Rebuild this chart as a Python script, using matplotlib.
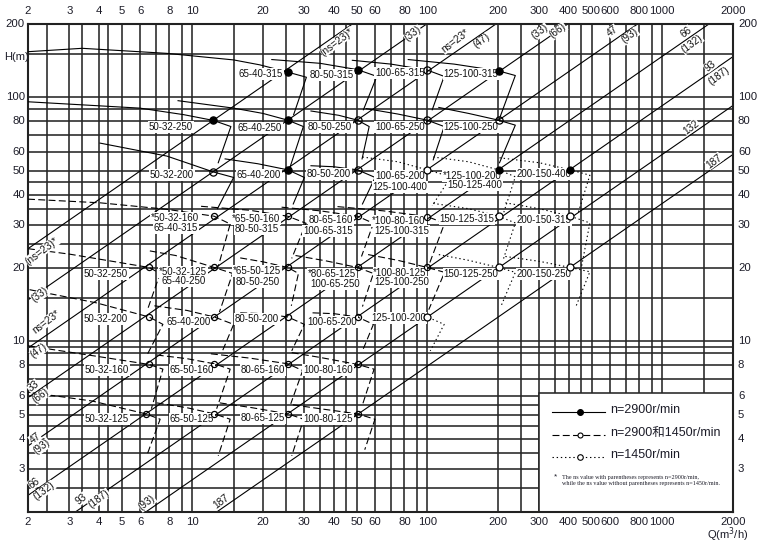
import matplotlib
matplotlib.use('Agg')
import matplotlib.pyplot as plt
from matplotlib.patches import Rectangle
from matplotlib.transforms import blended_transform_factory

plt.rcParams['font.family'] = ['Liberation Sans', 'Noto Sans CJK SC', 'DejaVu Sans']
plt.rcParams['lines.scale_dashes'] = False

# ---------------- data ----------------
XTICKS = [2, 3, 4, 5, 6, 8, 10, 20, 30, 40, 50, 60, 80, 100, 200, 300, 400, 500, 600, 800, 1000, 2000]
YTICKS = [3, 4, 5, 6, 8, 10, 20, 30, 40, 50, 60, 80, 100, 200]
XGRID = [2, 2.4, 3, 3.4, 4, 4.4, 5, 6, 7, 8, 9, 10, 15, 20, 25, 30, 35, 40, 45, 50, 60, 70, 80, 90,
         100, 200, 250, 300, 350, 400, 450, 500, 600, 700, 800, 900, 1000, 1500, 2000]
YGRID = [2, 2.5, 3, 3.5, 4, 4.5, 5, 5.5, 6, 7, 8, 9, 9.5, 10, 15, 20, 25, 30, 35, 40, 45, 50,
         60, 70, 80, 90, 100, 150, 200]

# specific-speed lines (start / end points)
NS_Q0 = [2, 2, 2, 2, 2, 2, 3.18, 6.34, 12.7]
NS_H0 = [24, 14.8, 9.4, 5.89, 3.73, 2.34, 2, 2, 2]
NS_Q1 = [48, 99.4, 196, 396, 785, 1580, 2000, 2000, 2000]
NS_H1 = [200, 200, 200, 200, 200, 200, 147, 92.7, 58.4]

# pump curves: (Q list, H list, boundary end (Q,H), best point (Q,H), dot fill)
SOLID_PUMPS = [
    ([2, 3.4, 7.8, 15, 19.4, 25.5, 30.6], [154, 159, 151.6, 142.5, 136, 127, 121], (27, 85), (25.5, 127), 'f'),
    ([21.8, 35, 50.5, 61], [143, 138, 130, 122], (53.5, 89), (50.5, 130), 'f'),
    ([48, 70, 100, 118], [142, 137, 129.5, 122], (105, 89), (100, 129.5), 'o'),
    ([83, 130, 201, 237], [143, 137, 128.5, 123], (203, 82), (201, 128.5), 'f'),
    ([2, 6, 9.2, 12.3, 14.6], [96, 90.4, 85, 80.5, 76], (12.9, 54), (12.3, 80.5), 'f'),
    ([8.7, 15, 20, 25.5, 29.7], [97, 90.4, 86, 80.7, 76], (26.1, 52), (25.5, 80.7), 'f'),
    ([32, 42, 50.5, 56.6], [88, 84.5, 80.7, 76], (52.8, 56), (50.5, 80.7), 'o'),
    ([55, 75, 100, 118], [90, 85.5, 80.7, 76], (106, 55.5), (100, 80.7), 'o'),
    ([112, 150, 201, 237], [91, 86, 80.7, 77], (203, 54), (201, 80.7), 'o'),
    ([4.05, 7.8, 10, 12.3, 15], [65, 57.5, 53, 49.5, 47], (12.8, 35), (12.3, 49.5), 'o'),
    ([13.8, 19, 25.5, 30], [56, 53.5, 50.5, 47], (26.9, 36.6), (25.5, 50.5), 'f'),
    ([32, 40, 50.5, 60], [52.5, 52, 50.5, 47], (53, 36.6), (50.5, 50.5), 'o'),
]

DASHED_PUMPS = [
    ([2, 4.05, 7.8, 12.4, 14.5], [38.3, 37, 34.8, 32.6, 30.3], (12.9, 20.3), (12.4, 32.6)),
    ([10.9, 17.5, 25.5, 30.5], [35.8, 34.5, 32.6, 30.5], (26.5, 21.9), (25.5, 32.6)),
    ([24, 35, 50.5, 59], [35.5, 34.3, 32.6, 30.5], (52.5, 22.3), (50.5, 32.6)),
    ([41.5, 65, 100, 118.5], [35.7, 34.3, 32.5, 30.5], (101.5, 20.5), (100, 32.5)),
    ([2, 3, 6.55, 7.3], [24, 22.8, 20.1, 19], (6.45, 13.5), (6.55, 20.1)),
    ([6.6, 8.5, 12.4, 14.85], [23.5, 22.5, 20.1, 19], (13.05, 13.2), (12.4, 20.1)),
    ([16, 20, 25.5, 28.3], [22, 21.2, 20.1, 19], (26.4, 14), (25.5, 20.1)),
    ([27.5, 37, 50.5, 59], [22.5, 21.4, 20.1, 19], (53, 13.9), (50.5, 20.1)),
    ([56, 75, 100, 118.5], [22.7, 21.5, 20.1, 19.2], (101.5, 13.5), (100, 20.1)),
    ([2.03, 3.9, 6.55, 7.5], [16.3, 14.4, 12.6, 11.75], (6.4, 8.75), (6.55, 12.6)),
    ([6.9, 9.5, 12.4, 15], [14, 13.4, 12.6, 11.75], (13.45, 9.15), (12.4, 12.6)),
    ([16, 20, 25.5, 30], [13.1, 13, 12.6, 11.75], (26.5, 9.15), (25.5, 12.6)),
    ([32.5, 40, 50.5, 59], [13.1, 13, 12.6, 11.75], (53, 9.15), (50.5, 12.6)),
    ([2, 3.9, 6.55, 7.5], [9.6, 8.7, 8.05, 7.7], (6.7, 5.3), (6.55, 8.05)),
    ([7.06, 9.5, 12.4, 14.5], [8.8, 8.5, 8.1, 7.7], (12.7, 5.3), (12.4, 8.1)),
    ([12, 17.5, 25.5, 29.5], [8.9, 8.55, 8.1, 7.6], (26.25, 5.55), (25.5, 8.1)),
    ([26.5, 35, 50.5, 59.4], [9.0, 8.6, 8.05, 7.7], (53, 5.5), (50.5, 8.05)),
    ([2, 3.75, 6.34, 7.3], [6.2, 5.7, 5.05, 4.8], (6.4, 3.4), (6.34, 5.05)),
    ([7.06, 9.5, 12.4, 14.5], [5.6, 5.35, 5.05, 4.8], (12.9, 3.4), (12.4, 5.05)),
    ([13.1, 18, 25.5, 29.8], [5.6, 5.35, 5.05, 4.8], (26.5, 3.4), (25.5, 5.05)),
    ([26.8, 35, 50.5, 59.9], [5.5, 5.3, 5.05, 4.8], (54.2, 3.6), (50.5, 5.05)),
]

DOTTED_PUMPS = [
    ([53, 75, 100, 126], [57, 54.5, 50.5, 47.3], (105, 36), (100, 50.5), 'o'),
    ([106, 150, 201, 237], [57, 54.5, 50.5, 47.3], (211, 33.5), (201, 50.5), 'f'),
    ([203, 300, 406, 492], [56.6, 54, 50.5, 48], (438, 33.5), (406, 50.5), 'f'),
    ([106, 150, 201, 237], [36.8, 35, 32.6, 30.6], (210, 21.5), (201, 32.6), 'o'),
    ([215, 300, 406, 492], [37, 35, 32.6, 30.6], (454, 20.4), (406, 32.6), 'o'),
    ([112, 150, 201, 237], [22.7, 21.5, 20.1, 19.2], (205, 13.8), (201, 20.1), 'o'),
    ([215, 300, 406, 492], [22.3, 21.3, 20.1, 19.3], (429, 13.9), (406, 20.1), 'o'),
    ([65, 80, 100, 118], [13.1, 13, 12.6, 11.75], (103, 9.15), (100, 12.6), 'o'),
]

# text labels (text, x pixel, y pixel)
PUMP_LABELS = [
    ('65-40-315', 261, 74), ('80-50-315', 332, 75), ('100-65-315', 400, 73), ('125-100-315', 471, 74),
    ('50-32-250', 171, 127), ('65-40-250', 260, 128), ('80-50-250', 330, 127), ('100-65-250', 400, 127),
    ('125-100-250', 471, 127),
    ('50-32-200', 172, 175), ('65-40-200', 259, 175), ('80-50-200', 329, 174), ('100-65-200', 400, 176),
    ('*125-100-200', 472, 176), ('125-100-400', 400, 187), ('150-125-400', 475, 185), ('200-150-400', 544, 174),
    ('*50-32-160', 175, 218), ('65-40-315', 176, 228), ('*65-50-160', 256, 219), ('80-50-315', 257, 229),
    ('80-65-160', 331, 220), ('100-65-315', 328, 231), ('*100-80-160', 399, 221), ('125-100-315', 402, 231),
    ('150-125-315', 467, 219), ('200-150-315', 544, 220),
    ('50-32-250', 106, 274), ('*50-32-125', 183, 272), ('65-40-250', 184, 281), ('*65-50-125', 257, 271),
    ('80-50-250', 258, 282), ('*80-65-125', 332, 274), ('100-65-250', 335, 284), ('*100-80-125', 400, 273),
    ('125-100-250', 402, 282), ('150-125-250', 471, 274), ('200-150-250', 544, 274),
    ('50-32-200', 106, 319), ('65-40-200', 189, 322), ('80-50-200', 257, 319), ('100-65-200', 332, 322),
    ('125-100-200', 399, 318),
    ('50-32-160', 107, 370), ('65-50-160', 192, 370), ('80-65-160', 263, 370), ('100-80-160', 328, 370),
    ('50-32-125', 107, 419), ('65-50-125', 192, 419), ('80-65-125', 263, 418), ('100-80-125', 328, 419),
]

NS_LABELS = [
    ('(ns=23)*', 42, 251), ('(33)', 40, 295), ('ns=23*', 46, 322), ('(47)', 39, 351),
    ('33', 33, 386), ('(66)', 41, 396), ('47', 35, 438), ('(93)', 42, 447), ('66', 34, 483), ('(132)', 44, 491),
    ('93', 81, 499), ('(187)', 99, 499), ('(93)', 147, 503), ('187', 221, 501),
    ('(ns=23)*', 337, 42), ('(33)', 413, 34), ('ns=23*', 455, 41), ('(47)', 482, 41),
    ('(33)', 540, 32), ('(66)', 558, 31), ('47', 612, 31), ('(93)', 630, 36),
    ('66', 686, 32), ('(132)', 692, 44), ('93', 710, 66), ('(187)', 719, 76),
    ('132', 691, 127), ('187', 714, 161),
]

LEGEND_TEXT = ['n=2900r/min', 'n=2900和1450r/min', 'n=1450r/min']
NOTE_LINES = ['The ns value with parentheses represents n=2900r/min,',
              'while the ns value without parentheses represents n=1450r/min.']

# ---------------- figure ----------------
W, Hpx = 762, 545
X0, X1, Y0, Y1 = 28, 733, 24, 512
fig = plt.figure(figsize=(W / 100, Hpx / 100), dpi=100)
ax = fig.add_axes([X0 / W, 1 - Y1 / Hpx, (X1 - X0) / W, (Y1 - Y0) / Hpx])
ax.set_xscale('log')
ax.set_yscale('log')
ax.set_xlim(2, 2000)
ax.set_ylim(2, 200)
ax.set_xticks([])
ax.set_yticks([])
ax.minorticks_off()
ax.tick_params(which='both', length=0, labelbottom=False, labelleft=False)
for s in ax.spines.values():
    s.set_linewidth(1.5)
    s.set_color('#222222')


def fx(px):
    return (px - X0) / (X1 - X0)


def fy(py):
    return (Y1 - py) / (Y1 - Y0)


GRID_C = '#262626'
for v in XGRID:
    ax.axvline(v, color=GRID_C, lw=1.15, zorder=1)
for v in YGRID:
    ax.axhline(v, color=GRID_C, lw=1.15, zorder=1)

# tick labels
TXT_C = '#1c1c28'
tx = blended_transform_factory(ax.transData, ax.transAxes)
ty = blended_transform_factory(ax.transAxes, ax.transData)
for v in XTICKS:
    ax.text(v, fy(522), str(v), transform=tx, ha='center', va='center', fontsize=8.2, color=TXT_C)
    ax.text(v, fy(11), str(v), transform=tx, ha='center', va='center', fontsize=8.2, color=TXT_C)
for v in YTICKS:
    ax.text(fx(25), v, str(v), transform=ty, ha='right', va='center', fontsize=8.2, color=TXT_C)
    ax.text(fx(738), v, str(v), transform=ty, ha='left', va='center', fontsize=8.2, color=TXT_C)
ax.text(fx(4), fy(57), 'H(m)', transform=ax.transAxes, ha='left', va='center', fontsize=8,
        color=TXT_C, clip_on=False)
ax.text(fx(728), fy(535), 'Q(m$^3$/h)', transform=ax.transAxes, ha='center', va='center',
        fontsize=8, color=TXT_C, clip_on=False)

# ns lines
for q0, h0, q1, h1 in zip(NS_Q0, NS_H0, NS_Q1, NS_H1):
    ax.plot([q0, q1], [h0, h1], color='k', lw=0.8, zorder=2, solid_capstyle='butt')

DASH = (0, (5, 2.4))
DOT = (0, (1, 2))


def draw_pump(Q, Hh, bnd, bep, ls, face, ms):
    ax.plot(list(Q) + [bnd[0]], list(Hh) + [bnd[1]], color='k', lw=0.8, ls=ls, zorder=3)
    ax.plot([bep[0]], [bep[1]], marker='o', ms=ms, mfc=face, mec='k', mew=0.9, ls='none', zorder=6)


for Q, Hh, bnd, bep, f in SOLID_PUMPS:
    draw_pump(Q, Hh, bnd, bep, '-', 'k' if f == 'f' else 'none', 5.2)
for Q, Hh, bnd, bep in DASHED_PUMPS:
    draw_pump(Q, Hh, bnd, bep, DASH, 'none', 4.4)
for Q, Hh, bnd, bep, f in DOTTED_PUMPS:
    draw_pump(Q, Hh, bnd, bep, DOT, 'k' if f == 'f' else 'white', 5.0)

# labels
for s, x, y in PUMP_LABELS:
    ax.text(fx(x), fy(y), s, transform=ax.transAxes, ha='center', va='center', fontsize=7,
            color='#111111', zorder=4,
            bbox=dict(boxstyle='square,pad=0.08', fc='white', ec='none'))
for s, x, y in NS_LABELS:
    ax.text(fx(x), fy(y), s, transform=ax.transAxes, ha='center', va='center', fontsize=7.3,
            color='#111111', rotation=37, rotation_mode='anchor', zorder=4,
            bbox=dict(boxstyle='square,pad=0.02', fc='white', ec='none'))

# legend box
ax.add_patch(Rectangle((fx(539), 0), 1 - fx(539), fy(393), transform=ax.transAxes,
                       fc='white', ec=GRID_C, lw=1.15, zorder=1.5))
leg_y = [411.5, 434.5, 456.5]
leg_ls = ['-', DASH, DOT]
leg_fill = ['k', 'white', 'white']
leg_ms = [4.2, 3.6, 4.0]
for yy, ls, fc, ms, s in zip(leg_y, leg_ls, leg_fill, leg_ms, LEGEND_TEXT):
    ax.plot([fx(552), fx(605)], [fy(yy), fy(yy)], transform=ax.transAxes, color='k', lw=0.8,
            ls=ls, zorder=3)
    ax.plot([fx(580)], [fy(yy)], transform=ax.transAxes, marker='o', ms=ms, mfc=fc, mec='k',
            mew=0.8, ls='none', zorder=4)
    ax.text(fx(610), fy(yy - 1.5), s, transform=ax.transAxes, ha='left', va='center', fontsize=9,
            color=TXT_C, zorder=4, family=['Liberation Sans', 'Noto Sans CJK SC'])
ax.text(fx(556), fy(477), '*', transform=ax.transAxes, ha='center', va='center', fontsize=6,
        color=TXT_C, zorder=4)
for i, s in enumerate(NOTE_LINES):
    ax.text(fx(562), fy(477 + 7 * i), s, transform=ax.transAxes, ha='left', va='center',
            fontsize=4.4, family='Liberation Serif', color=TXT_C, zorder=4)

fig.savefig('out.png', dpi=100)
